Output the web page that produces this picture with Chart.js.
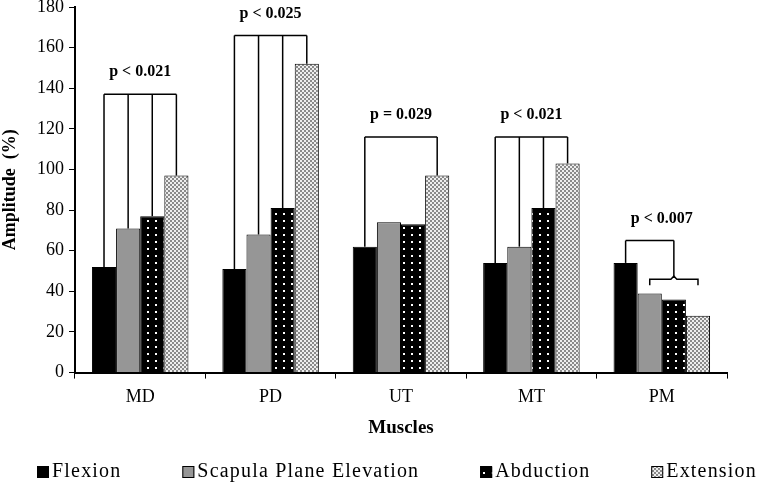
<!DOCTYPE html>
<html>
<head>
<meta charset="utf-8">
<script src="https://cdn.jsdelivr.net/npm/chart.js@4"></script>
<style>
html,body{margin:0;padding:0;background:#fff;}
#wrap{width:760px;height:483px;position:relative;}
</style>
</head>
<body>
<div id="wrap"><canvas id="c" width="760" height="483"></canvas></div>
<script>
const categories = ['MD', 'PD', 'UT', 'MT', 'PM'];
const seriesNames = ['Flexion', 'Scapula Plane Elevation', 'Abduction', 'Extension'];
const flexion = [52, 51, 62, 54, 54];
const scapula = [71, 68, 74, 62, 39];
const abduction = [77, 81, 73, 81, 36];
const extension = [97, 152, 97, 103, 28];
const yTickValues = [0, 20, 40, 60, 80, 100, 120, 140, 160, 180];
const pLabels = ['p < 0.021', 'p < 0.025', 'p = 0.029', 'p < 0.021', 'p < 0.007'];
const bracketLevels = [137, 166, 116, 116, 65];
const bracketLinks = [[0, 1, 2, 3], [0, 1, 2, 3], [0, 3], [0, 1, 2, 3], [0]];
const subBracketLevels = [null, null, null, null, 46];
const subBracketSpans = [null, null, null, null, [1, 3]];

const ctx0 = document.getElementById('c').getContext('2d');
function pat(draw, w, h) {
  const c = document.createElement('canvas');
  c.width = w; c.height = h;
  draw(c.getContext('2d'));
  return ctx0.createPattern(c, 'repeat');
}
const dotPattern = pat(g => {
  g.fillStyle = '#000'; g.fillRect(0, 0, 8, 7);
  g.fillStyle = '#fff'; g.fillRect(3, 3, 2, 2);
}, 8, 7);
const checkPattern = pat(g => {
  g.fillStyle = '#8a8a8a'; g.fillRect(0, 0, 4, 4);
  g.fillStyle = '#eeeeee'; g.fillRect(0, 0, 2, 2); g.fillRect(2, 2, 2, 2);
}, 4, 4);

const fills = ['#000000', '#969696', dotPattern, checkPattern];
const values = [flexion, scapula, abduction, extension];

const bracketPlugin = {
  id: 'brackets',
  afterDatasetsDraw(chart) {
    const c = chart.ctx;
    const y = chart.scales.y;
    const x = chart.scales.x;
    c.save();
    c.strokeStyle = '#000';
    c.lineWidth = 1.5;
    categories.forEach((cat, j) => {
      const by = y.getPixelForValue(bracketLevels[j]);
      const xs = [];
      bracketLinks[j].forEach(di => {
        const bar = chart.getDatasetMeta(di).data[j];
        xs.push(bar.x);
        c.beginPath(); c.moveTo(bar.x, by); c.lineTo(bar.x, bar.y); c.stroke();
      });
      if (subBracketSpans[j]) {
        const [a, b] = subBracketSpans[j];
        const xa = chart.getDatasetMeta(a).data[j].x;
        const xb = chart.getDatasetMeta(b).data[j].x;
        const sy = y.getPixelForValue(subBracketLevels[j]);
        const mx = (xa + xb) / 2;
        xs.push(mx);
        c.beginPath(); c.moveTo(mx, by); c.lineTo(mx, sy - 3); c.stroke();
        c.beginPath();
        c.moveTo(xa, sy + 6); c.lineTo(xa, sy); c.lineTo(mx - 3, sy);
        c.lineTo(mx, sy - 3); c.lineTo(mx + 3, sy); c.lineTo(xb, sy); c.lineTo(xb, sy + 6);
        c.stroke();
      }
      c.beginPath(); c.moveTo(Math.min(...xs), by); c.lineTo(Math.max(...xs), by); c.stroke();
      c.fillStyle = '#000';
      c.font = 'bold 16px "Liberation Serif"';
      c.textAlign = 'center';
      c.textBaseline = 'middle';
      c.fillText(pLabels[j], x.getPixelForValue(j), by - 22);
    });
    c.restore();
  }
};

const legendPlugin = {
  id: 'customLegend',
  afterDraw(chart) {
    const c = chart.ctx;
    c.save();
    c.font = '20px "Liberation Serif"';
    if ('letterSpacing' in c) c.letterSpacing = '1.2px';
    c.textBaseline = 'middle';
    c.textAlign = 'left';
    const box = 12, gapBox = 3;
    const left = 37, right = 757, yc = 472;
    const widths = chart.data.datasets.map(d => box + gapBox + c.measureText(d.label).width);
    const total = widths.reduce((a, b) => a + b, 0);
    const gap = (right - left - total) / (widths.length - 1);
    let xpos = left;
    chart.data.datasets.forEach((d, i) => {
      c.fillStyle = d.backgroundColor;
      c.fillRect(xpos, yc - box / 2, box, box);
      c.strokeStyle = '#000'; c.lineWidth = 1;
      c.strokeRect(xpos + 0.5, yc - box / 2 + 0.5, box - 1, box - 1);
      c.fillStyle = '#000';
      c.fillText(d.label, xpos + box + gapBox, yc);
      xpos += widths[i] + gap;
    });
    c.restore();
  }
};

new Chart(document.getElementById('c'), {
  type: 'bar',
  data: {
    labels: categories,
    datasets: seriesNames.map((n, i) => ({
      label: n,
      data: values[i],
      backgroundColor: fills[i],
      borderColor: '#000',
      borderWidth: 1,
      borderSkipped: 'bottom',
      categoryPercentage: 0.74,
      barPercentage: 1.0
    }))
  },
  options: {
    responsive: false,
    animation: false,
    devicePixelRatio: 1,
    layout: { padding: { top: 0, right: 33, left: 0, bottom: 44 } },
    plugins: {
      tooltip: { enabled: false },
      legend: { display: false }
    },
    scales: {
      x: {
        grid: { drawOnChartArea: false, color: '#000', tickLength: 6, offset: true },
        border: { color: '#000', width: 2 },
        ticks: { color: '#000', font: { family: 'Liberation Serif', size: 18 }, padding: 8 },
        title: { display: true, text: 'Muscles', color: '#000', font: { family: 'Liberation Serif', size: 19, weight: 'bold' }, padding: { top: 0, bottom: 0 } }
      },
      y: {
        min: 0, max: 180,
        afterBuildTicks: s => { s.ticks = yTickValues.map(v => ({ value: v })); },
        afterFit: s => { s.width = 75; s.paddingTop = 7; },
        grid: { drawOnChartArea: false, color: '#000', tickLength: 6 },
        border: { color: '#000', width: 2 },
        ticks: { color: '#000', font: { family: 'Liberation Serif', size: 18 }, padding: 5 },
        title: { display: true, text: 'Amplitude  (%)', color: '#000', font: { family: 'Liberation Serif', size: 18, weight: 'bold' }, padding: 0 }
      }
    }
  },
  plugins: [bracketPlugin, legendPlugin]
});
</script>
</body>
</html>
